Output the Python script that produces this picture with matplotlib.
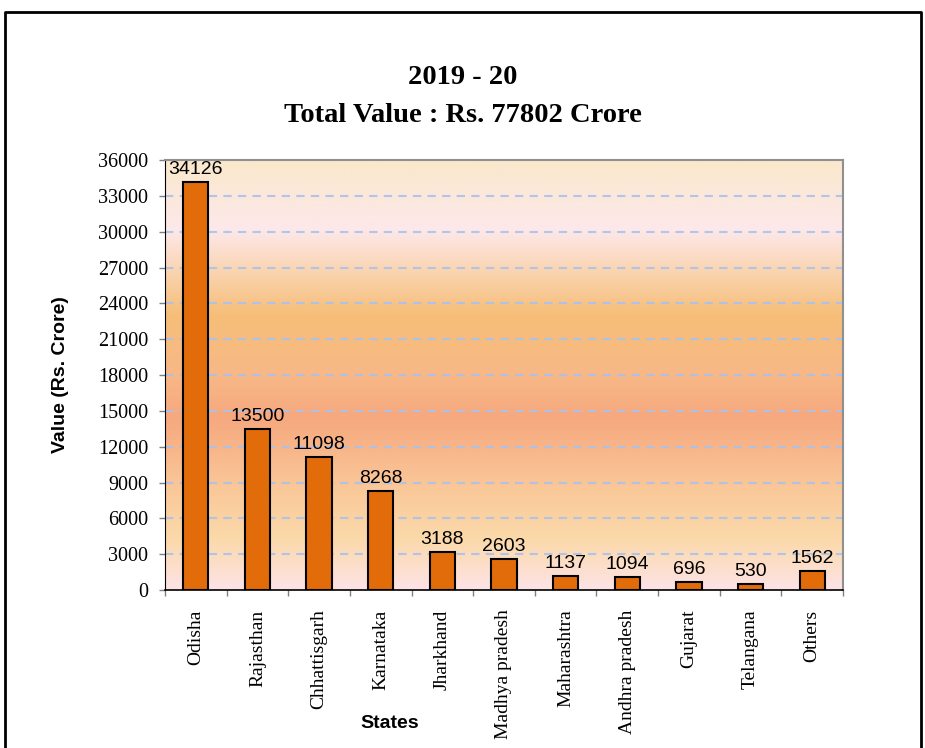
import numpy as np
import matplotlib.pyplot as plt
from matplotlib.colors import LinearSegmentedColormap
from matplotlib.lines import Line2D

states = ['Odisha', 'Rajasthan', 'Chhattisgarh', 'Karnataka', 'Jharkhand',
          'Madhya pradesh', 'Maharashtra', 'Andhra pradesh', 'Gujarat',
          'Telangana', 'Others']
values = [34126, 13500, 11098, 8268, 3188, 2603, 1137, 1094, 696, 530, 1562]
yticks = list(range(0, 36001, 3000))

SERIF = ['Liberation Serif', 'DejaVu Serif']
SANS = ['Liberation Sans', 'DejaVu Sans']

fig = plt.figure(figsize=(9.25, 7.48), dpi=100)
ax = fig.add_axes([165 / 925, 1 - 590 / 748, (843 - 165) / 925, (590 - 160) / 748])

# background gradient (bottom -> top)
stops = [(0.0, '#fde3e6'), (0.12, '#fbd9a9'), (0.23, '#fac99a'),
         (0.40, '#f6a87e'), (0.50, '#f8b887'), (0.64, '#f6be78'),
         (0.75, '#fad6b5'), (0.84, '#fde8ea'), (1.0, '#fae8cc')]
cmap = LinearSegmentedColormap.from_list('bg', stops)
grad = np.linspace(0, 1, 256).reshape(-1, 1)
n = len(states)
ax.imshow(grad, cmap=cmap, aspect='auto', origin='lower',
          extent=[-0.5, n - 0.5, 0, 36000], zorder=0)

x = np.arange(n)
ax.bar(x, values, width=0.41, color='#e36c0a', edgecolor='black',
       linewidth=1.5, zorder=3)
for xi, v in zip(x, values):
    ax.annotate(str(v), (xi, v), xytext=(0, 3), textcoords='offset points',
                ha='center', va='bottom', fontsize=14, family=SANS, zorder=4)

ax.set_xlim(-0.5, n - 0.5)
ax.set_ylim(0, 36000)
ax.set_yticks(yticks)
ax.set_yticklabels([str(t) for t in yticks], family=SERIF, fontsize=14.5)
for t in yticks[1:-1]:
    ax.axhline(t, color='#a9c2ee', linestyle=(0, (4, 3)), linewidth=1.5,
               alpha=0.9, zorder=1)

ax.set_xticks(np.arange(-0.5, n, 1))
ax.set_xticklabels([])
ax.set_xticks(x, minor=True)
ax.set_xticklabels(states, minor=True, rotation=90, family=SERIF, fontsize=14)
ax.tick_params(axis='x', which='minor', length=0, pad=14)
ax.tick_params(axis='both', which='major', color='#808080', length=4, width=1)
ax.tick_params(axis='y', pad=8)

for side in ['top', 'right']:
    ax.spines[side].set_color('#909090')
    ax.spines[side].set_linewidth(1.5)
ax.spines['left'].set_color('black')
ax.spines['bottom'].set_color('black')
ax.spines['bottom'].set_linewidth(1.2)

ax.set_ylabel('Value (Rs. Crore)', family=SANS, fontsize=14, fontweight='bold')
ax.yaxis.set_label_coords((69 - 165) / 678, 0.5)
ax.set_xlabel('States', family=SANS, fontsize=14, fontweight='bold')
ax.xaxis.set_label_coords((390 - 165) / 678, (590 - 723) / 430)
ax.xaxis.label.set_va('center')

fig.text(0.5, 1 - 77 / 748, '2019 - 20', ha='center', va='center',
         family=SERIF, fontsize=20.5, fontweight='bold')
fig.text(0.5, 1 - 115 / 748, 'Total Value : Rs. 77802 Crore', ha='center', va='center',
         family=SERIF, fontsize=20.5, fontweight='bold')

# outer frame (left, top, right)
fx0, fx1, fy = 5 / 925, 921 / 925, 1 - 12 / 748
fig.add_artist(Line2D([fx0, fx0, fx1, fx1], [0, fy, fy, 0],
                      color='black', linewidth=2, transform=fig.transFigure))

fig.savefig('out.png', dpi=100)
